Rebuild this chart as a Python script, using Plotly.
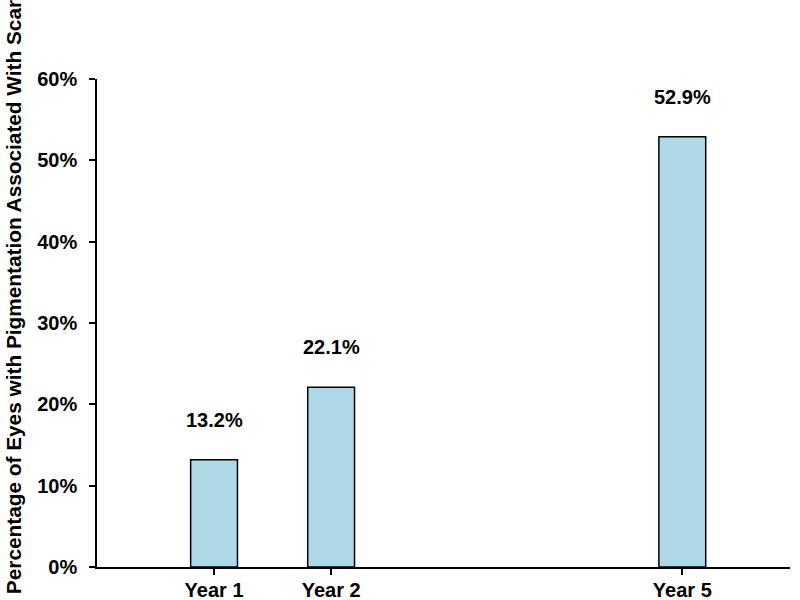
import plotly.graph_objects as go

years = [1, 2, 5]
year_labels = ["Year 1", "Year 2", "Year 5"]
pct = [13.2, 22.1, 52.9]
y_ticks = [0, 10, 20, 30, 40, 50, 60]
y_tick_labels = ["0%", "10%", "20%", "30%", "40%", "50%", "60%"]
y_title = "Percentage of Eyes with Pigmentation Associated With Scar"

font = "Arial, Liberation Sans, sans-serif"

fig = go.Figure()
fig.add_trace(go.Bar(
    x=years, y=pct, width=0.4,
    marker=dict(color="lightblue", line=dict(color="black", width=1.5)),
    hoverinfo="skip",
))

for x, v in zip(years, pct):
    fig.add_annotation(x=x, y=v, text=f"{v:.1f}%", showarrow=False,
                       yshift=40, font=dict(family=font, size=20, color="black", weight="bold"))

# y title as rotated annotation (long title, runs off the top like the original)
fig.add_annotation(xref="paper", yref="paper", x=0, y=0.553, xshift=-84,
                   xanchor="center", yanchor="middle",
                   text=y_title, textangle=-90, showarrow=False,
                   font=dict(family=font, size=20.8, color="black", weight="bold"))

fig.update_layout(
    width=800, height=600,
    margin=dict(l=97, r=10, t=79, b=33),
    plot_bgcolor="white", paper_bgcolor="white",
    showlegend=False,
    font=dict(family=font, color="black"),
)
fig.update_xaxes(
    range=[0, 5.92], tickvals=years, ticktext=year_labels, automargin=False,
    showline=True, linecolor="black", linewidth=1.5,
    ticks="outside", ticklen=6, tickcolor="black", tickwidth=1.5,
    showgrid=False, zeroline=False, ticklabelstandoff=-2,
    tickfont=dict(family=font, size=20, weight="bold"),
)
fig.update_yaxes(
    range=[0, 60], tickvals=y_ticks, ticktext=y_tick_labels, automargin=False,
    showline=True, linecolor="black", linewidth=1.5,
    ticks="outside", ticklen=6, tickcolor="black", tickwidth=1.5,
    showgrid=False, zeroline=False, ticklabelstandoff=8,
    tickfont=dict(family=font, size=20, weight="bold"),
)

# drop the default body margin so the figure sits at the page corner
fig.write_html("out.html", config={"displayModeBar": False},
               post_script="document.body.style.margin='0';")
